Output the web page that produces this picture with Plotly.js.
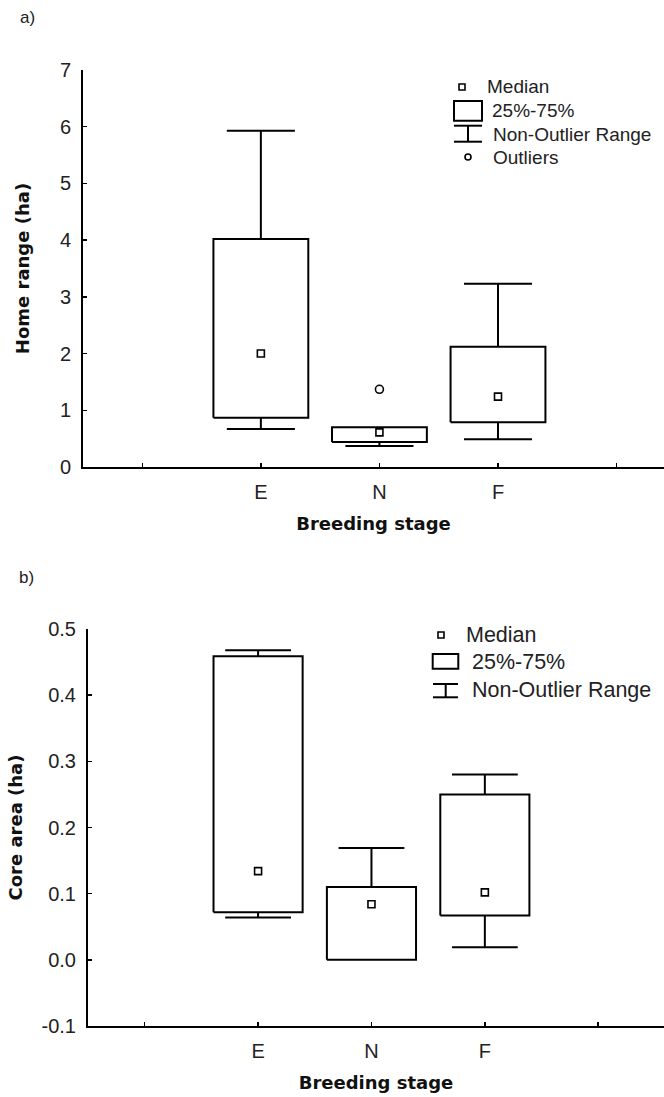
<!DOCTYPE html>
<html>
<head>
<meta charset="utf-8">
<script src="https://cdn.plot.ly/plotly-3.0.1.min.js"></script>
<style>html,body{margin:0;padding:0;background:#fff;}#chart{width:664px;height:1097px;}</style>
</head>
<body>
<div id="chart"></div>
<script>
// ---- data ----
const stages = ['E', 'N', 'F'];
const tickVals = [0, 1, 2, 3, 4];
const tickLabels = ['', 'E', 'N', 'F', ''];

// a) Home range (ha)
const hrMin = [0.67, 0.37, 0.49];
const hrQ1 = [0.87, 0.44, 0.79];
const hrMedian = [2.00, 0.61, 1.24];
const hrQ3 = [4.02, 0.70, 2.12];
const hrMax = [5.93, 0.70, 3.23];
const hrOutlierStage = ['N'];
const hrOutlierValue = [1.37];

// b) Core area (ha)
const caMin = [0.064, 0.000, 0.019];
const caQ1 = [0.072, 0.000, 0.067];
const caMedian = [0.134, 0.084, 0.102];
const caQ3 = [0.459, 0.110, 0.250];
const caMax = [0.468, 0.169, 0.280];

const yTicksB = [-0.1, 0, 0.1, 0.2, 0.3, 0.4, 0.5];
const yLabelsB = ['-0.1', '0.0', '0.1', '0.2', '0.3', '0.4', '0.5'];

// ---- helpers ----
const W = 664, H = 1097;
const px = v => v / W;
const py = v => 1 - v / H;
const pos = s => stages.indexOf(s) + 1;

function boxPaths(lo, q1, q3, hi, hw, cw) {
  const x = [], y = [];
  stages.forEach((s, i) => {
    const c = pos(s);
    x.push(c - hw, c + hw, c + hw, c - hw, c - hw, null);
    y.push(q1[i], q1[i], q3[i], q3[i], q1[i], null);
    if (hi[i] > q3[i]) {
      x.push(c, c, null, c - cw, c + cw, null);
      y.push(q3[i], hi[i], null, hi[i], hi[i], null);
    }
    if (lo[i] < q1[i]) {
      x.push(c, c, null, c - cw, c + cw, null);
      y.push(q1[i], lo[i], null, lo[i], lo[i], null);
    }
  });
  return {x, y};
}

const tickFont = {family: 'Liberation Sans, Arial, sans-serif', size: 20, color: '#222'};
const titleFont = {family: 'DejaVu Sans, sans-serif', size: 18, color: '#111', weight: 'bold'};
const lineStyle = {color: '#000', width: 2};

const pA = boxPaths(hrMin, hrQ1, hrQ3, hrMax, 0.40, 0.287);
const pB = boxPaths(caMin, caQ1, caQ3, caMax, 0.393, 0.29);

const medMarker = {symbol: 'square', size: 7, color: '#fff', line: {color: '#000', width: 1.6}};

const traces = [
  {x: pA.x, y: pA.y, xaxis: 'x', yaxis: 'y', mode: 'lines', line: lineStyle, hoverinfo: 'skip', showlegend: false, name: '25%-75% / Non-Outlier Range'},
  {x: stages.map(pos), y: hrMedian, xaxis: 'x', yaxis: 'y', mode: 'markers', marker: medMarker, showlegend: false, name: 'Median'},
  {x: hrOutlierStage.map(pos), y: hrOutlierValue, xaxis: 'x', yaxis: 'y', mode: 'markers',
   marker: {symbol: 'circle-open', size: 8, color: '#000', line: {color: '#000', width: 1.6}}, showlegend: false, name: 'Outliers'},
  {x: pB.x, y: pB.y, xaxis: 'x2', yaxis: 'y2', mode: 'lines', line: lineStyle, hoverinfo: 'skip', showlegend: false, name: '25%-75% / Non-Outlier Range'},
  {x: stages.map(pos), y: caMedian, xaxis: 'x2', yaxis: 'y2', mode: 'markers', marker: medMarker, showlegend: false, name: 'Median'}
];

const axisCommon = {
  showline: true, linecolor: '#000', linewidth: 2, mirror: false,
  showgrid: false, zeroline: false,
  ticks: 'inside', ticklen: 4, tickwidth: 1.5, tickcolor: '#000',
  tickfont: tickFont, fixedrange: true
};

function legText(text, x, y, size) {
  return {text: text, xref: 'paper', yref: 'paper', x: px(x), y: py(y), xanchor: 'left', yanchor: 'middle',
          showarrow: false, font: {family: 'Liberation Sans, Arial, sans-serif', size: size, color: '#222'}};
}
const L = {type: 'line', xref: 'paper', yref: 'paper', line: {color: '#000', width: 2}};
function lineShape(x0, y0, x1, y1) { return Object.assign({}, L, {x0: px(x0), y0: py(y0), x1: px(x1), y1: py(y1)}); }
function rectShape(x0, y0, x1, y1, w) {
  return {type: 'rect', xref: 'paper', yref: 'paper', x0: px(x0), y0: py(y0), x1: px(x1), y1: py(y1),
          line: {color: '#000', width: w}, fillcolor: '#fff'};
}

const layout = {
  width: W, height: H,
  margin: {l: 0, r: 0, t: 0, b: 0},
  paper_bgcolor: '#fff', plot_bgcolor: '#fff',
  showlegend: false,
  xaxis: Object.assign({}, axisCommon, {
    domain: [px(83), 1], range: [-0.5, 4.40], anchor: 'y',
    tickmode: 'array', tickvals: tickVals, ticktext: tickLabels, ticklabelstandoff: 6,
    title: {text: 'Breeding stage', font: titleFont, standoff: 15}
  }),
  yaxis: Object.assign({}, axisCommon, {
    domain: [py(467), py(70)], range: [0, 7], anchor: 'x', dtick: 1, tick0: 0, ticklabelstandoff: 6,
    title: {text: 'Home range (ha)', font: titleFont, standoff: 26}
  }),
  xaxis2: Object.assign({}, axisCommon, {
    domain: [px(88), 1], range: [-0.5, 4.58], anchor: 'y2',
    tickmode: 'array', tickvals: tickVals, ticktext: tickLabels, ticklabelstandoff: 6,
    title: {text: 'Breeding stage', font: titleFont, standoff: 15}
  }),
  yaxis2: Object.assign({}, axisCommon, {
    domain: [py(1026), py(629)], range: [-0.1, 0.5], anchor: 'x2',
    tickmode: 'array', tickvals: yTicksB, ticktext: yLabelsB, ticklabelstandoff: 6,
    title: {text: 'Core area (ha)', font: titleFont, standoff: 14}
  }),
  annotations: [
    {text: 'a)', xref: 'paper', yref: 'paper', x: px(27), y: py(17), xanchor: 'center', yanchor: 'middle', showarrow: false,
     font: {family: 'Liberation Sans, Arial, sans-serif', size: 17, color: '#222'}},
    {text: 'b)', xref: 'paper', yref: 'paper', x: px(26), y: py(577), xanchor: 'center', yanchor: 'middle', showarrow: false,
     font: {family: 'Liberation Sans, Arial, sans-serif', size: 17, color: '#222'}},
    legText('Median', 485, 87, 19),
    legText('25%-75%', 490, 110, 19),
    legText('Non-Outlier Range', 491, 134, 19),
    legText('Outliers', 491, 157, 19),
    legText('Median', 464, 635, 21.5),
    legText('25%-75%', 470, 662, 21.5),
    legText('Non-Outlier Range', 470, 690, 21.5)
  ],
  shapes: [
    rectShape(459, 84, 465, 90, 1.6),
    rectShape(454, 101, 482, 120.7, 2),
    lineShape(454, 125.7, 482, 125.7),
    lineShape(454, 141.7, 482, 141.7),
    lineShape(468, 125.7, 468, 141.7),
    {type: 'circle', xref: 'paper', yref: 'paper', x0: px(465), y0: py(154), x1: px(471), y1: py(160), line: {color: '#000', width: 1.6}},
    rectShape(438, 632, 444, 638, 1.6),
    rectShape(432.7, 654, 458.3, 668.7, 2),
    lineShape(433, 684, 458, 684),
    lineShape(433, 697.3, 458, 697.3),
    lineShape(445.7, 684, 445.7, 697.3)
  ]
};

Plotly.newPlot('chart', traces, layout, {displayModeBar: false, staticPlot: true});
</script>
</body>
</html>
